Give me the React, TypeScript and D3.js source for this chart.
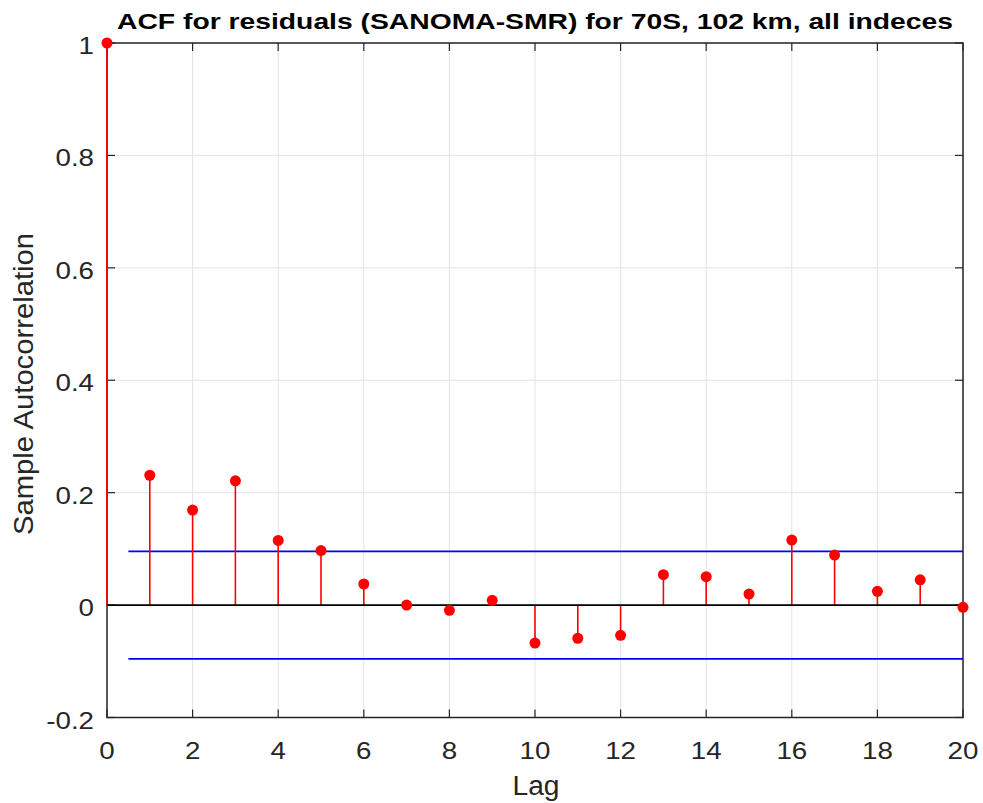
import React from "react";
import * as d3 from "d3";

const lags = [0, 1, 2, 3, 4, 5, 6, 7, 8, 9, 10, 11, 12, 13, 14, 15, 16, 17, 18, 19, 20];
const acf = [1, 0.231, 0.169, 0.221, 0.115, 0.097, 0.0375, 0.0, -0.0094, 0.0084, -0.0675, -0.059, -0.0538, 0.054, 0.0505, 0.0197, 0.1157, 0.089, 0.0244, 0.045, -0.004];
const bound = 0.0956;
const boundStart = 0.5;
const xTicks = [0, 2, 4, 6, 8, 10, 12, 14, 16, 18, 20];
const yTicks = [-0.2, 0, 0.2, 0.4, 0.6, 0.8, 1];
const yTickLabels = ["-0.2", "0", "0.2", "0.4", "0.6", "0.8", "1"];
const title = "ACF for residuals (SANOMA-SMR) for 70S, 102 km, all indeces";

export default function App() {
  const W = 983, H = 803;
  const L = 107, R = 963, T = 43, B = 717.5;
  const x = d3.scaleLinear().domain([0, 20]).range([L, R]);
  const y = d3.scaleLinear().domain([-0.2, 1]).range([B, T]);
  const axisColor = "#262626";
  const font = "'Liberation Sans', Arial, Helvetica, sans-serif";
  const tickLen = 8;
  const tickFs = 23.5;
  const sx = 1.18;
  return (
    <svg width={W} height={H} style={{ position: "absolute", left: 0, top: 0, background: "#fff" }} fontFamily={font}>
      <rect x={0} y={0} width={W} height={H} fill="#fff" />
      {/* grid */}
      {xTicks.map((t) => (
        <line key={"gx" + t} x1={x(t)} x2={x(t)} y1={T} y2={B} stroke="#e3e3e3" strokeWidth={1} />
      ))}
      {yTicks.map((t) => (
        <line key={"gy" + t} x1={L} x2={R} y1={y(t)} y2={y(t)} stroke="#e3e3e3" strokeWidth={1} />
      ))}
      {/* box */}
      <rect x={L} y={T} width={R - L} height={B - T} fill="none" stroke={axisColor} strokeWidth={1.5} />
      {/* ticks */}
      {xTicks.map((t) => (
        <g key={"tx" + t}>
          <line x1={x(t)} x2={x(t)} y1={B} y2={B - tickLen} stroke={axisColor} strokeWidth={1.2} />
          <line x1={x(t)} x2={x(t)} y1={T} y2={T + tickLen} stroke={axisColor} strokeWidth={1.2} />
          <text transform={`translate(${x(t)}, ${B + 41}) scale(${sx}, 1)`} textAnchor="middle" fontSize={tickFs} fill={axisColor}>{t}</text>
        </g>
      ))}
      {yTicks.map((t, i) => (
        <g key={"ty" + t}>
          <line x1={L} x2={L + tickLen} y1={y(t)} y2={y(t)} stroke={axisColor} strokeWidth={1.2} />
          <line x1={R} x2={R - tickLen} y1={y(t)} y2={y(t)} stroke={axisColor} strokeWidth={1.2} />
          <text transform={`translate(${L - 13}, ${y(t) + 11}) scale(${sx}, 1)`} textAnchor="end" fontSize={tickFs} fill={axisColor}>{yTickLabels[i]}</text>
        </g>
      ))}
      {/* bounds */}
      <line x1={x(boundStart)} x2={x(20)} y1={y(bound)} y2={y(bound)} stroke="#0000ff" strokeWidth={1.8} />
      <line x1={x(boundStart)} x2={x(20)} y1={y(-bound)} y2={y(-bound)} stroke="#0000ff" strokeWidth={1.8} />
      {/* stems */}
      {lags.map((l, i) => (
        <line key={"s" + l} x1={x(l)} x2={x(l)} y1={y(0)} y2={y(acf[i])} stroke="#ff0000" strokeWidth={1.6} />
      ))}
      {/* zero line */}
      <line x1={L} x2={R} y1={y(0)} y2={y(0)} stroke="#000" strokeWidth={1.6} />
      {lags.map((l, i) => (
        <circle key={"m" + l} cx={x(l)} cy={y(acf[i])} r={5.5} fill="#ff0000" />
      ))}
      {/* labels */}
      <text x={535} y={28.5} textAnchor="middle" fontSize={22} fontWeight="bold" fill="#000" textLength={836} lengthAdjust="spacingAndGlyphs">{title}</text>
      <text x={536} y={795} textAnchor="middle" fontSize={27} fill={axisColor} textLength={47} lengthAdjust="spacingAndGlyphs">Lag</text>
      <text transform={`translate(33, 384) rotate(-90)`} textAnchor="middle" fontSize={27} fill={axisColor} textLength={302} lengthAdjust="spacingAndGlyphs">Sample Autocorrelation</text>
    </svg>
  );
}
